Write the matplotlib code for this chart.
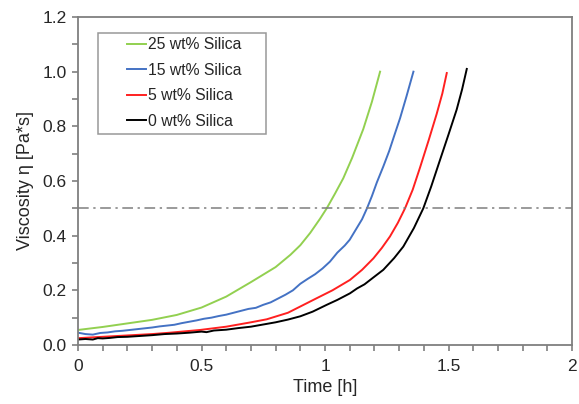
import matplotlib
matplotlib.use("Agg")
import matplotlib.pyplot as plt
import numpy as np
from matplotlib.ticker import MultipleLocator

plt.rcParams['font.family'] = ['Liberation Sans', 'DejaVu Sans']

# 25 wt% Silica
t_25 = [0, 0.1, 0.2, 0.3, 0.4, 0.5, 0.6, 0.7, 0.8, 0.86, 0.9, 0.94, 0.98, 1.007, 1.04, 1.074, 1.11, 1.155, 1.19, 1.223]
v_25 = [0.055, 0.066, 0.079, 0.092, 0.110, 0.137, 0.177, 0.230, 0.285, 0.330, 0.365, 0.410, 0.462, 0.50, 0.553, 0.61, 0.685, 0.79, 0.89, 1.0]

# 15 wt% Silica
t_15 = [0.00, 0.03, 0.06, 0.09, 0.12, 0.15, 0.18, 0.21, 0.24, 0.27, 0.30, 0.33, 0.36, 0.39, 0.42, 0.45,
        0.48, 0.51, 0.54, 0.57, 0.60, 0.63, 0.66, 0.69, 0.72, 0.75, 0.78, 0.81, 0.84, 0.87, 0.90, 0.93,
        0.96, 0.99, 1.02, 1.05, 1.08, 1.10, 1.12, 1.15, 1.17, 1.19, 1.21, 1.236, 1.26, 1.28, 1.304, 1.33, 1.358]
v_15 = [0.045, 0.040, 0.038, 0.044, 0.046, 0.050, 0.052, 0.055, 0.058, 0.061, 0.064, 0.068, 0.071, 0.074,
        0.080, 0.085, 0.090, 0.096, 0.100, 0.106, 0.111, 0.118, 0.125, 0.132, 0.136, 0.147, 0.156, 0.170,
        0.184, 0.200, 0.224, 0.242, 0.259, 0.280, 0.305, 0.338, 0.364, 0.385, 0.415, 0.460, 0.50, 0.545,
        0.595, 0.653, 0.710, 0.765, 0.830, 0.910, 1.0]

# 5 wt% Silica
t_5 = [0.00, 0.1, 0.2, 0.3, 0.372, 0.494, 0.6, 0.7, 0.764, 0.85, 0.966, 1.03, 1.101, 1.15, 1.196, 1.23,
       1.263, 1.295, 1.324, 1.355, 1.385, 1.42, 1.452, 1.475, 1.493]
v_5 = [0.025, 0.030, 0.035, 0.040, 0.045, 0.055, 0.067, 0.083, 0.094, 0.118, 0.171, 0.200, 0.238, 0.275,
       0.317, 0.355, 0.397, 0.447, 0.50, 0.568, 0.650, 0.750, 0.845, 0.920, 0.995]

# 0 wt% Silica
t_0 = [0.00, 0.03, 0.06, 0.08, 0.1, 0.13, 0.16, 0.2, 0.25, 0.3, 0.35, 0.4, 0.45, 0.5, 0.52, 0.55, 0.6,
       0.65, 0.7, 0.75, 0.8, 0.85, 0.9, 0.95, 1.007, 1.05, 1.101, 1.13, 1.16, 1.2, 1.236, 1.28, 1.317,
       1.36, 1.398, 1.43, 1.466, 1.50, 1.533, 1.555, 1.574]
v_0 = [0.020, 0.022, 0.020, 0.025, 0.024, 0.026, 0.029, 0.030, 0.033, 0.036, 0.040, 0.042, 0.045, 0.049,
       0.047, 0.053, 0.056, 0.062, 0.067, 0.075, 0.083, 0.093, 0.105, 0.122, 0.147, 0.165, 0.189, 0.207,
       0.222, 0.250, 0.275, 0.318, 0.360, 0.428, 0.50, 0.580, 0.678, 0.770, 0.861, 0.935, 1.01]

labels = ['25 wt% Silica', '15 wt% Silica', '5 wt% Silica', '0 wt% Silica']
colors = ['#92D050', '#4472C4', '#FF2020', '#000000']
threshold = 0.5

text_color = '#262626'
fig = plt.figure(figsize=(5.79, 4.04), dpi=100)
ax = fig.add_axes([78/579, 59/404, 494/579, 328/404])

for t, v, lab, c in zip([t_25, t_15, t_5, t_0], [v_25, v_15, v_5, v_0], labels, colors):
    ax.plot(t, v, color=c, lw=1.4, label=lab)

ax.axhline(threshold, color='#7f7f7f', lw=1.1, ls=(0, (7, 3, 1.5, 3)))

ax.set_xlim(0, 2)
ax.set_ylim(0, 1.2)
ax.set_xticks([0, 0.5, 1, 1.5, 2])
ax.set_xticklabels(['0', '0.5', '1', '1.5', '2'])
ax.set_yticks([0, 0.2, 0.4, 0.6, 0.8, 1.0, 1.2])
ax.set_yticklabels(['0.0', '0.2', '0.4', '0.6', '0.8', '1.0', '1.2'])
ax.xaxis.set_minor_locator(MultipleLocator(0.1))
ax.yaxis.set_minor_locator(MultipleLocator(0.1))

for s in ax.spines.values():
    s.set_color('#7f7f7f')
    s.set_linewidth(1.3)
ax.tick_params(which='both', direction='out', color='#7f7f7f', width=1.2, labelsize=12.5,
               labelcolor=text_color, top=False, right=False)
ax.tick_params(which='both', length=4)
ax.tick_params(axis='x', which='major', pad=6)
ax.tick_params(axis='y', which='major', pad=4)

ax.set_xlabel('Time [h]', fontsize=13, color=text_color, labelpad=4)
ax.set_ylabel('Viscosity η [Pa*s]', fontsize=13, color=text_color, labelpad=6)

leg = ax.legend(loc='upper left', bbox_to_anchor=(20/494, 1 - 16/328, 168/494, 0.001), mode='expand',
                fontsize=11.3, frameon=True, fancybox=False, edgecolor='#7f7f7f',
                handlelength=2.75, handletextpad=0.12, borderpad=0.3,
                labelspacing=0.67, borderaxespad=0)
leg.get_frame().set_linewidth(1.1)
for txt in leg.get_texts():
    txt.set_color(text_color)
for line in leg.get_lines():
    x = np.asarray(line.get_xdata(), dtype=float)
    x0, x1 = x.min(), x.max()
    line.set_xdata(np.linspace(x1 - 0.43 * (x1 - x0), x1, len(x)))

fig.savefig('out.png', dpi=100)
